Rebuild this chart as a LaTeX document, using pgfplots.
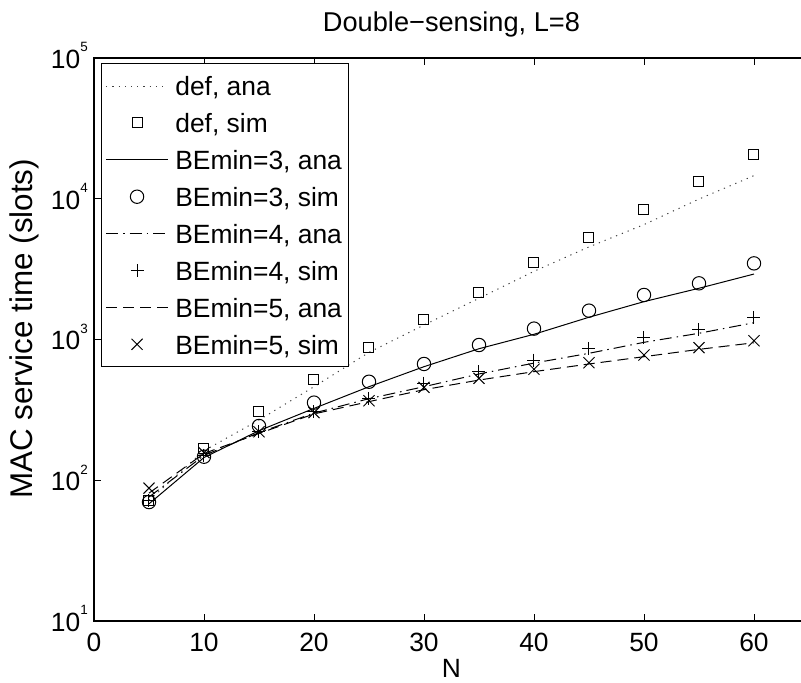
\documentclass[border=0pt]{standalone}
\usepackage{fontspec}
\setmainfont{Liberation Sans}
\usepackage{pgfplots}
\pgfplotsset{compat=1.18}
\newcommand\ff{\fontsize{26.5}{31.8}\selectfont}
\newcommand\tp[1]{10\raisebox{16.5bp}{\fontsize{13.5}{14}\selectfont #1}}
\begin{document}
\ff
\begin{tikzpicture}
\begin{axis}[
  at={(0,0)}, anchor=south west,
  scale only axis, width=715bp, height=563bp,
  xmin=0, xmax=65, ymin=10, ymax=100000,
  ymode=log, log basis y=10,
  xtick={0,10,20,30,40,50,60},
  ytick={10,100,1000,10000,100000},
  yticklabels={\tp{1},\tp{2},\tp{3},\tp{4},\tp{5}},
  /pgf/number format/assume math mode=true,
  tick align=inside,
  major tick length=7bp, minor tick length=4bp,
  every tick/.style={black, line width=0.9bp},
  axis line style={line width=1.3bp},
  tick label style={font=\ff},
  xticklabel style={yshift=-2.9bp},
  yticklabel style={anchor=base east, yshift=-10.5bp, xshift=2.8bp},
  title={Double−sensing, L=8},
  title style={font=\fontsize{27.3}{32}\selectfont, at={(axis description cs:0.5,1)}, anchor=base, yshift=21bp},
  xlabel={N},
  xlabel style={font=\ff, at={(axis description cs:0.5,-0.0845)}, anchor=center},
  ylabel={MAC service time (slots)},
  ylabel style={font=\fontsize{31.5}{36}\selectfont, at={(axis description cs:-0.0979,0.5187)}, anchor=center},
  legend cell align=left,
  legend style={font=\ff, at={(axis description cs:0.0095,0.9911)}, anchor=north west,
    draw=black, line width=0.9bp, fill=white, inner xsep=4.5bp, inner ysep=4.1bp,
    row sep=0pt, column sep=5bp,
    nodes={inner sep=2bp, text height=26.3bp, text depth=6.6bp}},
  legend image code/.code={\draw[mark repeat=2,mark phase=2,#1] plot coordinates {(0bp,0bp)(30.8bp,0bp)(61.6bp,0bp)};},
]
% def, ana
\addplot[black!75, line width=1bp, dash pattern=on 1.2bp off 5bp] coordinates {
(5,72) (10,162) (15,268) (20,462) (25,810) (30,1268) (35,1963) (40,3050) (45,4550) (50,6550) (55,9950) (60,14600)};
\addlegendentry{def, ana}
% def, sim
\addplot[only marks, mark=square, mark size=5bp, mark options={line width=1bp, black}] coordinates {
(5,72) (10,169) (15,310) (20,524) (25,880) (30,1393) (35,2140) (40,3514) (45,5290) (50,8450) (55,13200) (60,20500)};
\addlegendentry{def, sim}
% BEmin=3, ana
\addplot[black, line width=1bp] coordinates {
(5,68) (10,145) (15,225) (20,324) (25,462) (30,641) (35,860) (40,1089) (45,1439) (50,1858) (55,2312) (60,2918)};
\addlegendentry{BEmin=3, ana}
% BEmin=3, sim
\addplot[only marks, mark=o, mark size=6.7bp, mark options={line width=1bp, black}] coordinates {
(5,70) (10,147) (15,243) (20,356) (25,501) (30,670) (35,914) (40,1195) (45,1603) (50,2072) (55,2507) (60,3475)};
\addlegendentry{BEmin=3, sim}
% BEmin=4, ana
\addplot[black, line width=1bp, dash pattern=on 12bp off 5bp on 1.5bp off 5bp] coordinates {
(5,76) (10,150) (15,218) (20,300) (25,380) (30,462) (35,569) (40,680) (45,798) (50,955) (55,1107) (60,1316)};
\addlegendentry{BEmin=4, ana}
% BEmin=4, sim
\addplot[only marks, mark=+, mark size=6.5bp, mark options={line width=1bp, black}] coordinates {
(5,72) (10,151) (15,221) (20,307) (25,382) (30,489) (35,590) (40,715) (45,865) (50,1037) (55,1181) (60,1439)};
\addlegendentry{BEmin=4, sim}
% BEmin=5, ana
\addplot[black, line width=1bp, dash pattern=on 11bp off 6bp] coordinates {
(5,81) (10,155) (15,215) (20,296) (25,362) (30,440) (35,515) (40,591) (45,670) (50,755) (55,851) (60,948)};
\addlegendentry{BEmin=5, ana}
% BEmin=5, sim
\addplot[only marks, mark=x, mark size=7.8bp, mark options={line width=1bp, black}] coordinates {
(5,88) (10,157) (15,221) (20,302) (25,367) (30,457) (35,530) (40,615) (45,684) (50,776) (55,875) (60,980)};
\addlegendentry{BEmin=5, sim}
\end{axis}
\pgfresetboundingbox
\path (-94bp,-62bp) rectangle (707bp,621bp);
\end{tikzpicture}
\end{document}
